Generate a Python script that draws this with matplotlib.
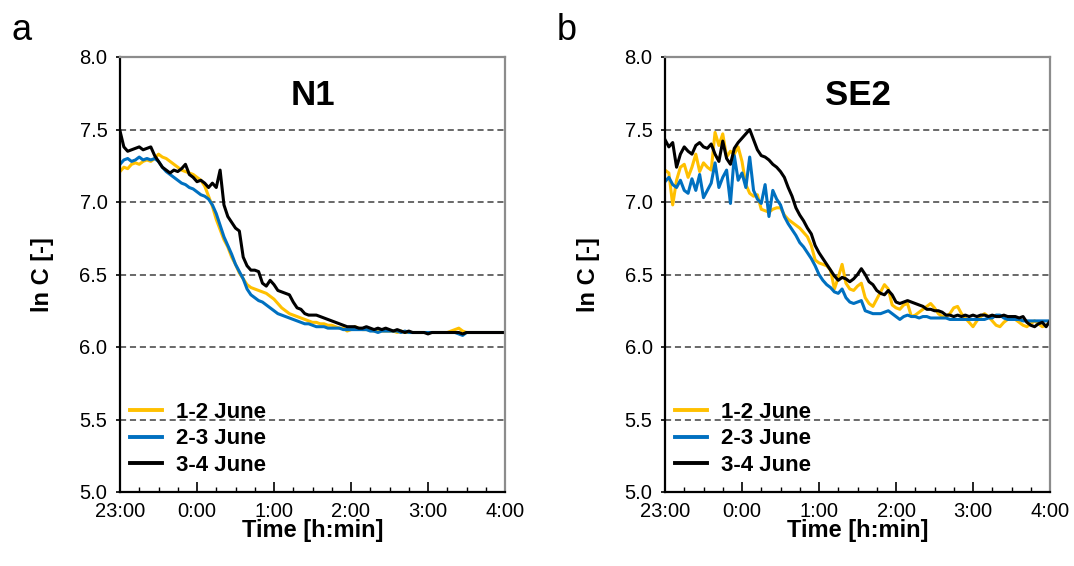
import matplotlib
matplotlib.use("Agg")
import matplotlib.pyplot as plt
from matplotlib.ticker import MultipleLocator, FixedLocator, FuncFormatter

plt.rcParams['font.family'] = ['Liberation Sans', 'DejaVu Sans']

# time in minutes after 23:00
time_min = list(range(0, 301, 3))
xtick_min = [0, 60, 120, 180, 240, 300]
xtick_labels = ["23:00", "0:00", "1:00", "2:00", "3:00", "4:00"]
series_labels = ["1-2 June", "2-3 June", "3-4 June"]
series_colors = ["#FFC000", "#0070C0", "#000000"]
panel_titles = ["N1", "SE2"]
panel_letters = ["a", "b"]

n1_jun12 = [7.21, 7.24, 7.23, 7.26, 7.27, 7.26, 7.28, 7.29, 7.28, 7.30,
            7.33, 7.31, 7.30, 7.28, 7.26, 7.24, 7.22, 7.21, 7.20, 7.19,
            7.17, 7.15, 7.11, 7.04, 6.97, 6.88, 6.81, 6.74, 6.69, 6.62,
            6.57, 6.51, 6.47, 6.43, 6.41, 6.40, 6.39, 6.38, 6.37, 6.35,
            6.33, 6.30, 6.27, 6.25, 6.23, 6.22, 6.21, 6.20, 6.19, 6.18,
            6.17, 6.17, 6.16, 6.16, 6.15, 6.15, 6.14, 6.13, 6.13, 6.11,
            6.12, 6.14, 6.13, 6.12, 6.12, 6.12, 6.11, 6.12, 6.11, 6.11,
            6.11, 6.11, 6.10, 6.11, 6.10, 6.10, 6.10, 6.10, 6.10, 6.10,
            6.10, 6.10, 6.10, 6.10, 6.10, 6.10, 6.11, 6.12, 6.13, 6.11,
            6.10, 6.10, 6.10, 6.10, 6.10, 6.10, 6.10, 6.10, 6.10, 6.10,
            6.10]
n1_jun23 = [7.26, 7.29, 7.30, 7.28, 7.29, 7.31, 7.29, 7.30, 7.29, 7.30,
            7.28, 7.24, 7.21, 7.19, 7.17, 7.15, 7.13, 7.12, 7.10, 7.09,
            7.07, 7.05, 7.04, 7.02, 6.98, 6.92, 6.84, 6.76, 6.70, 6.64,
            6.57, 6.52, 6.47, 6.40, 6.36, 6.34, 6.32, 6.31, 6.29, 6.27,
            6.25, 6.23, 6.22, 6.21, 6.20, 6.19, 6.18, 6.17, 6.16, 6.16,
            6.15, 6.14, 6.14, 6.14, 6.13, 6.13, 6.13, 6.13, 6.12, 6.12,
            6.12, 6.12, 6.12, 6.12, 6.12, 6.11, 6.11, 6.10, 6.11, 6.11,
            6.11, 6.11, 6.11, 6.10, 6.11, 6.10, 6.10, 6.10, 6.10, 6.10,
            6.10, 6.10, 6.10, 6.10, 6.10, 6.10, 6.10, 6.10, 6.09, 6.08,
            6.10, 6.10, 6.10, 6.10, 6.10, 6.10, 6.10, 6.10, 6.10, 6.10,
            6.10]
n1_jun34 = [7.49, 7.38, 7.35, 7.36, 7.37, 7.38, 7.36, 7.37, 7.38, 7.32,
            7.28, 7.24, 7.22, 7.20, 7.22, 7.21, 7.23, 7.26, 7.19, 7.17,
            7.14, 7.15, 7.13, 7.10, 7.13, 7.10, 7.22, 6.98, 6.90, 6.86,
            6.82, 6.80, 6.62, 6.56, 6.53, 6.53, 6.52, 6.44, 6.42, 6.46,
            6.43, 6.39, 6.38, 6.37, 6.36, 6.31, 6.27, 6.26, 6.23, 6.22,
            6.22, 6.22, 6.21, 6.20, 6.19, 6.18, 6.17, 6.16, 6.15, 6.14,
            6.14, 6.14, 6.13, 6.13, 6.14, 6.13, 6.12, 6.13, 6.12, 6.13,
            6.12, 6.11, 6.12, 6.11, 6.10, 6.11, 6.10, 6.10, 6.10, 6.10,
            6.09, 6.10, 6.10, 6.10, 6.10, 6.10, 6.10, 6.10, 6.10, 6.09,
            6.10, 6.10, 6.10, 6.10, 6.10, 6.10, 6.10, 6.10, 6.10, 6.10,
            6.10]

se2_jun12 = [7.22, 7.20, 6.98, 7.15, 7.24, 7.26, 7.17, 7.24, 7.33, 7.21,
             7.27, 7.24, 7.22, 7.48, 7.39, 7.47, 7.31, 7.35, 7.33, 7.38,
             7.28, 7.12, 7.06, 7.04, 7.05, 6.95, 6.94, 6.93, 6.95, 6.96,
             6.96, 6.91, 6.88, 6.86, 6.84, 6.82, 6.79, 6.76, 6.70, 6.60,
             6.58, 6.57, 6.56, 6.53, 6.40, 6.48, 6.57, 6.44, 6.40, 6.39,
             6.42, 6.44, 6.34, 6.30, 6.28, 6.33, 6.38, 6.43, 6.40, 6.29,
             6.27, 6.26, 6.29, 6.30, 6.21, 6.22, 6.24, 6.26, 6.28, 6.30,
             6.27, 6.23, 6.21, 6.21, 6.23, 6.27, 6.28, 6.23, 6.20, 6.17,
             6.14, 6.18, 6.21, 6.23, 6.21, 6.18, 6.15, 6.14, 6.17, 6.19,
             6.20, 6.19, 6.17, 6.15, 6.14, 6.16, 6.18, 6.16, 6.14, 6.15,
             6.17]
se2_jun23 = [7.14, 7.17, 7.12, 7.10, 7.15, 7.08, 7.06, 7.16, 7.08, 7.19,
             7.03, 7.08, 7.13, 7.27, 7.10, 7.17, 7.22, 6.99, 7.32, 7.15,
             7.20, 7.10, 7.31, 7.08, 7.02, 6.99, 7.12, 6.90, 7.08, 7.02,
             6.98, 6.90, 6.85, 6.81, 6.77, 6.72, 6.69, 6.65, 6.61, 6.56,
             6.50, 6.46, 6.43, 6.41, 6.38, 6.37, 6.40, 6.34, 6.31, 6.30,
             6.31, 6.32, 6.25, 6.24, 6.23, 6.23, 6.23, 6.24, 6.25, 6.23,
             6.21, 6.19, 6.21, 6.22, 6.21, 6.21, 6.20, 6.21, 6.21, 6.20,
             6.20, 6.20, 6.20, 6.20, 6.19, 6.19, 6.19, 6.19, 6.19, 6.19,
             6.19, 6.19, 6.19, 6.19, 6.20, 6.20, 6.22, 6.22, 6.20, 6.19,
             6.19, 6.19, 6.19, 6.18, 6.18, 6.18, 6.18, 6.18, 6.18, 6.18,
             6.18]
se2_jun34 = [7.43, 7.38, 7.41, 7.24, 7.33, 7.38, 7.35, 7.33, 7.39, 7.41,
             7.38, 7.37, 7.40, 7.33, 7.28, 7.42, 7.30, 7.26, 7.37, 7.41,
             7.44, 7.47, 7.50, 7.43, 7.36, 7.32, 7.31, 7.29, 7.26, 7.24,
             7.21, 7.17, 7.10, 7.04, 6.96, 6.91, 6.87, 6.82, 6.78, 6.70,
             6.65, 6.61, 6.57, 6.53, 6.49, 6.46, 6.48, 6.47, 6.45, 6.47,
             6.50, 6.54, 6.50, 6.45, 6.43, 6.39, 6.37, 6.36, 6.39, 6.36,
             6.31, 6.30, 6.31, 6.32, 6.31, 6.30, 6.29, 6.28, 6.26, 6.26,
             6.25, 6.25, 6.24, 6.22, 6.22, 6.21, 6.22, 6.21, 6.22, 6.21,
             6.22, 6.21, 6.22, 6.22, 6.21, 6.22, 6.21, 6.21, 6.22, 6.21,
             6.21, 6.21, 6.20, 6.21, 6.17, 6.15, 6.14, 6.16, 6.17, 6.14,
             6.18]

panels = [
    [n1_jun12, n1_jun23, n1_jun34],
    [se2_jun12, se2_jun23, se2_jun34],
]

fig = plt.figure(figsize=(10.74, 5.66), dpi=100)
lefts = [120 / 1074, 665 / 1074]
bottom = 1 - 492 / 566
height = (492 - 57) / 566
width = 385 / 1074

for p in range(2):
    ax = fig.add_axes([lefts[p], bottom, width, height])
    for s in range(3):
        ax.plot(time_min, panels[p][s], color=series_colors[s], lw=2.2,
                label=series_labels[s], solid_joinstyle='round')
    ax.set_xlim(0, 300)
    ax.set_ylim(5.0, 8.0)
    for yv in [5.5, 6.0, 6.5, 7.0, 7.5]:
        ax.axhline(yv, color='#404040', lw=1.1, ls=(0, (4, 2.5)), zorder=0)
    ax.yaxis.set_major_locator(MultipleLocator(0.5))
    ax.yaxis.set_major_formatter(FuncFormatter(lambda v, pos: f"{v:.1f}"))
    ax.xaxis.set_major_locator(FixedLocator(xtick_min))
    ax.set_xticklabels(xtick_labels)
    ax.xaxis.set_minor_locator(MultipleLocator(15))
    ax.tick_params(axis='x', which='major', direction='in', length=7, width=1.2,
                   labelsize=14.5, pad=7, colors='black')
    ax.tick_params(axis='x', which='minor', direction='in', length=3.5, width=1.0)
    ax.tick_params(axis='y', which='major', direction='out', length=3, width=1.2,
                   labelsize=14.5, pad=6)
    for side in ['left', 'bottom']:
        ax.spines[side].set_linewidth(1.6)
        ax.spines[side].set_color('black')
    for side in ['top', 'right']:
        ax.spines[side].set_linewidth(1.6)
        ax.spines[side].set_color('#8c8c8c')
    ax.set_xlabel("Time [h:min]", fontsize=17, fontweight='bold', labelpad=-1)
    ax.set_ylabel("ln C [-]", fontsize=17, fontweight='bold', labelpad=18)
    ax.text(0.5, 0.95, panel_titles[p], transform=ax.transAxes, ha='center',
            va='top', fontsize=25, fontweight='bold')
    leg = ax.legend(loc='lower left', frameon=False,
                    prop={'weight': 'bold', 'size': 16}, handlelength=1.45,
                    handletextpad=0.6, labelspacing=0.25, borderpad=0.0,
                    bbox_to_anchor=(10 / 385, 16 / 435), borderaxespad=0.0)
    for line in leg.get_lines():
        line.set_linewidth(2.8)
    fig.text(lefts[p] - 108 / 1074, 1 - 30 / 566, panel_letters[p], fontsize=26,
             ha='left', va='center')

fig.savefig("out.png", dpi=100)
